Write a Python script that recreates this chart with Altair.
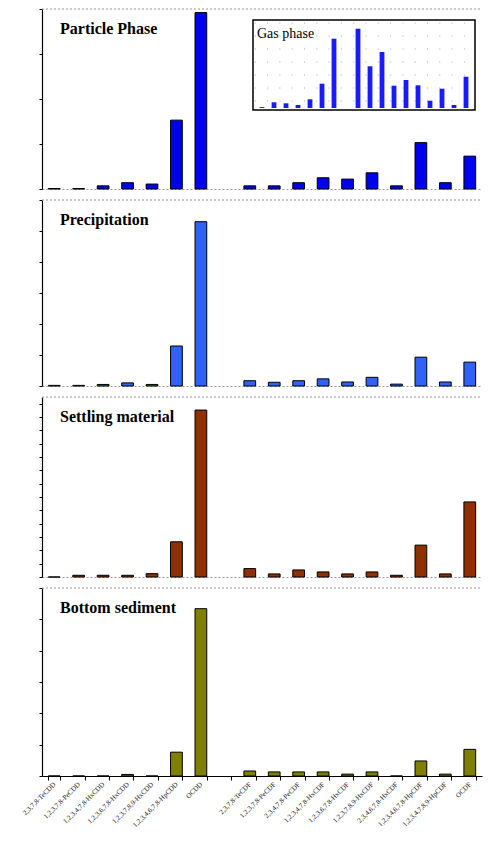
import altair as alt
import pandas as pd
import numpy as np

# ---------------- data ----------------
congeners = [
    "2,3,7,8-TeCDD", "1,2,3,7,8-PeCDD", "1,2,3,4,7,8-HxCDD", "1,2,3,6,7,8-HxCDD",
    "1,2,3,7,8,9-HxCDD", "1,2,3,4,6,7,8-HpCDD", "OCDD", " ",
    "2,3,7,8-TeCDF", "1,2,3,7,8-PeCDF", "2,3,4,7,8-PeCDF", "1,2,3,4,7,8-HxCDF",
    "1,2,3,6,7,8-HxCDF", "1,2,3,7,8,9-HxCDF", "2,3,4,6,7,8-HxCDF",
    "1,2,3,4,6,7,8-HpCDF", "1,2,3,4,7,8,9-HpCDF", "OCDF",
]
nan = np.nan
particle = [0.01, 0.01, 0.07, 0.14, 0.11, 1.53, 3.92, nan,
            0.07, 0.07, 0.14, 0.25, 0.22, 0.36, 0.07, 1.03, 0.14, 0.73]
precipitation = [0.02, 0.02, 0.05, 0.10, 0.05, 1.29, 5.30, nan,
                 0.17, 0.12, 0.17, 0.23, 0.13, 0.28, 0.06, 0.93, 0.13, 0.77]
settling = [0.0, 0.13, 0.13, 0.13, 0.25, 2.64, 12.52, nan,
            0.63, 0.23, 0.53, 0.38, 0.23, 0.38, 0.13, 2.39, 0.23, 5.63]
sediment = [0.0, 0.0, 0.0, 0.05, 0.0, 0.76, 5.34, nan,
            0.16, 0.13, 0.13, 0.13, 0.06, 0.13, 0.0, 0.48, 0.06, 0.85]
gas = [0.9, 5.7, 4.7, 3.0, 8.7, 24.3, 69.3, nan,
       79.3, 41.7, 56.0, 22.3, 28.0, 22.7, 7.3, 19.3, 3.0, 31.3]

panel_titles = ["Particle Phase", "Precipitation", "Settling material", "Bottom sediment"]
panel_values = [particle, precipitation, settling, sediment]
panel_colors = ["#0000f0", "#2f62f5", "#8f3000", "#808000"]
panel_domains = [4, 6, 13.5, 6]
panel_ticks = [[0, 1, 2, 3, 4], [0, 1, 2, 3, 4, 5, 6], list(range(0, 14)), [0, 1, 2, 3, 4, 5, 6]]
panel_heights = [180, 186, 180, 188]
gas_grid_rows = [7, 20, 33, 46, 59, 72, 85]

W = 440
SERIF = "Liberation Serif"


def make_panel(i):
    df = pd.DataFrame({"congener": congeners, "value": panel_values[i]})
    last = i == 3
    if last:
        xaxis = alt.Axis(title=None, labelAngle=-45, labelAlign="right", labelBaseline="middle",
                         labelFontSize=7, labelFont=SERIF, labelColor="#222", labelPadding=3,
                         tickBand="extent", tickSize=4, tickColor="black",
                         domainColor="black", domainWidth=1, labelOverlap=False)
    else:
        xaxis = alt.Axis(title=None, labels=False, ticks=False, domainColor="#999",
                         domainDash=[2, 2], domainWidth=1)
    bars = alt.Chart(df).mark_bar(color=panel_colors[i], stroke="black", strokeWidth=1).encode(
        x=alt.X("congener:N", sort=congeners,
                scale=alt.Scale(domain=congeners, paddingInner=0.52, paddingOuter=0.26),
                axis=xaxis),
        y=alt.Y("value:Q", scale=alt.Scale(domain=[0, panel_domains[i]], nice=False),
                axis=alt.Axis(title=None, labels=False, grid=False, values=panel_ticks[i],
                              tickSize=3, tickColor="black", domainColor="black",
                              domainWidth=1.2)),
    )
    tdf = pd.DataFrame({"t": [panel_titles[i]]})
    top_rule = alt.Chart(tdf).mark_rule(color="#999", strokeDash=[2, 2], strokeWidth=1).encode(
        x=alt.value(0), x2=alt.value(W), y=alt.value(0))
    title = alt.Chart(tdf).mark_text(font=SERIF, fontWeight="bold", fontSize=16, align="left",
                                     baseline="alphabetic", color="black").encode(
        x=alt.value(18), y=alt.value(25), text="t:N")
    main = alt.layer(top_rule, bars, title)
    if i == 0:
        gdf = pd.DataFrame({"idx": list(range(len(gas))), "value": gas})
        gdf["x1"] = gdf["idx"] - 0.2
        gdf["x2"] = gdf["idx"] + 0.2
        xs = alt.Scale(domain=[-0.75, 17.75], range=[211, 433])
        ys = alt.Scale(domain=[-2, 88], range=[101, 11])
        fdf = pd.DataFrame({"x1": [-0.75], "x2": [17.75], "y1": [-2], "y2": [88], "t": ["Gas phase"]})
        frame = alt.Chart(fdf).mark_rect(fill="white", stroke="black", strokeWidth=1.5).encode(
            x=alt.X("x1:Q", scale=xs, axis=None), x2="x2:Q",
            y=alt.Y("y1:Q", scale=ys, axis=None), y2="y2:Q")
        rdf = pd.DataFrame({"y": gas_grid_rows, "x1": -0.6, "x2": 17.6})
        grid = alt.Chart(rdf).mark_rule(color="#aaa", strokeDash=[1, 11.3], strokeWidth=1).encode(
            x=alt.X("x1:Q", scale=xs, axis=None), x2="x2:Q",
            y=alt.Y("y:Q", scale=ys, axis=None))
        gbars = alt.Chart(gdf).mark_bar(color="#1a1aff").encode(
            x=alt.X("x1:Q", scale=xs, axis=None), x2="x2:Q",
            y=alt.Y("value:Q", scale=ys, axis=None), y2=alt.datum(0))
        gtext = alt.Chart(fdf).mark_text(font=SERIF, fontSize=14, align="left",
                                         baseline="alphabetic", color="black").encode(
            x=alt.value(215), y=alt.value(29), text="t:N")
        inset = alt.layer(frame, grid, gbars, gtext)
        main = alt.layer(main, inset).resolve_scale(x="independent", y="independent")
    return main.properties(width=W, height=panel_heights[i])


chart = alt.vconcat(*[make_panel(i) for i in range(4)], spacing=9).properties(
    padding={"left": 12, "top": 0, "right": 0, "bottom": 0}
).configure_view(stroke=None).configure_axis(grid=False)

chart.save("out.html", embed_options={"renderer": "svg", "actions": False})
